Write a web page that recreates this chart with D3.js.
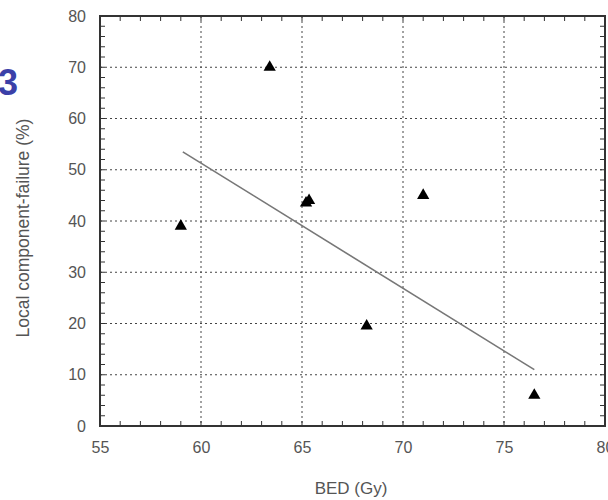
<!DOCTYPE html>
<html>
<head>
<meta charset="utf-8">
<script src="https://cdn.jsdelivr.net/npm/d3@7"></script>
<style>
  body { margin: 0; background: #fff; }
  svg text { font-family: "Liberation Sans", Arial, sans-serif; }
</style>
</head>
<body>
<div id="chart"></div>
<script>
const bed = [59.0, 63.4, 65.2, 65.35, 68.2, 71.0, 76.5];
const failure = [39, 70, 43.5, 44, 19.5, 45, 6];
const fitBed = [59.1, 76.5];
const fitFailure = [53.5, 11];
const xTicks = [55, 60, 65, 70, 75, 80];
const yTicks = [0, 10, 20, 30, 40, 50, 60, 70, 80];

const width = 608;
const height = 500;
const margin = { top: 16, right: 3, bottom: 74, left: 100 };
const innerHeight = height - margin.top - margin.bottom;

const x = d3.scaleLinear().domain([55, 80]).range([0, 505]);
const y = d3.scaleLinear().domain([0, 80]).range([innerHeight, 0]);

const svg = d3.select("#chart")
  .append("svg")
  .attr("width", width)
  .attr("height", height);

svg.append("text")
  .attr("x", -2)
  .attr("y", 95)
  .attr("fill", "#3b40a8")
  .attr("font-size", 36)
  .attr("font-weight", "bold")
  .text("3");

const g = svg.append("g")
  .attr("transform", `translate(${margin.left},${margin.top})`);

// dotted grid at major ticks
g.selectAll(".vgrid")
  .data(xTicks.slice(1, -1))
  .enter()
  .append("line")
  .attr("x1", d => x(d)).attr("x2", d => x(d))
  .attr("y1", 0).attr("y2", innerHeight)
  .attr("stroke", "#444")
  .attr("stroke-width", 1)
  .attr("stroke-dasharray", "2,3");

g.selectAll(".hgrid")
  .data(yTicks.slice(1, -1))
  .enter()
  .append("line")
  .attr("x1", 0).attr("x2", x(80))
  .attr("y1", d => y(d)).attr("y2", d => y(d))
  .attr("stroke", "#444")
  .attr("stroke-width", 1)
  .attr("stroke-dasharray", "2,3");

// minor ticks on all four sides, pointing inward
const xMinor = d3.range(56, 80, 1);
const yMinor = d3.range(2, 80, 2);
const tickG = g.append("g").attr("stroke", "#333").attr("stroke-width", 1);
xMinor.forEach(v => {
  tickG.append("line").attr("x1", x(v)).attr("x2", x(v)).attr("y1", innerHeight).attr("y2", innerHeight - 5);
  tickG.append("line").attr("x1", x(v)).attr("x2", x(v)).attr("y1", 0).attr("y2", 5);
});
yMinor.forEach(v => {
  tickG.append("line").attr("x1", 0).attr("x2", 5).attr("y1", y(v)).attr("y2", y(v));
  tickG.append("line").attr("x1", x(80)).attr("x2", x(80) - 5).attr("y1", y(v)).attr("y2", y(v));
});

// frame
g.append("rect")
  .attr("x", 0).attr("y", 0)
  .attr("width", x(80)).attr("height", innerHeight)
  .attr("fill", "none")
  .attr("stroke", "#333")
  .attr("stroke-width", 2);

// tick labels
const xAxis = g.append("g")
  .attr("transform", `translate(0,${innerHeight})`)
  .call(d3.axisBottom(x).tickValues(xTicks).tickSize(0).tickPadding(16));
xAxis.select(".domain").remove();
xAxis.selectAll("text").attr("font-size", 16).attr("fill", "#555");

const yAxis = g.append("g")
  .call(d3.axisLeft(y).tickValues(yTicks).tickSize(0).tickPadding(14));
yAxis.select(".domain").remove();
yAxis.selectAll("text").attr("font-size", 16).attr("fill", "#555");

// fit line
g.append("line")
  .attr("x1", x(fitBed[0])).attr("y1", y(fitFailure[0]))
  .attr("x2", x(fitBed[1])).attr("y2", y(fitFailure[1]))
  .attr("stroke", "#777")
  .attr("stroke-width", 1.6);

// data points
g.selectAll(".pt")
  .data(bed.map((b, i) => [b, failure[i]]))
  .enter()
  .append("path")
  .attr("d", d3.symbol().type(d3.symbolTriangle).size(65))
  .attr("transform", d => `translate(${x(d[0])},${y(d[1])})`)
  .attr("fill", "#000");

svg.append("text")
  .attr("x", 351)
  .attr("y", 494)
  .attr("text-anchor", "middle")
  .attr("font-size", 17)
  .attr("fill", "#555")
  .text("BED (Gy)");

svg.append("text")
  .attr("transform", "translate(29,228) rotate(-90)")
  .attr("text-anchor", "middle")
  .attr("font-size", 17.5)
  .attr("fill", "#555")
  .text("Local component-failure (%)");
</script>
</body>
</html>
